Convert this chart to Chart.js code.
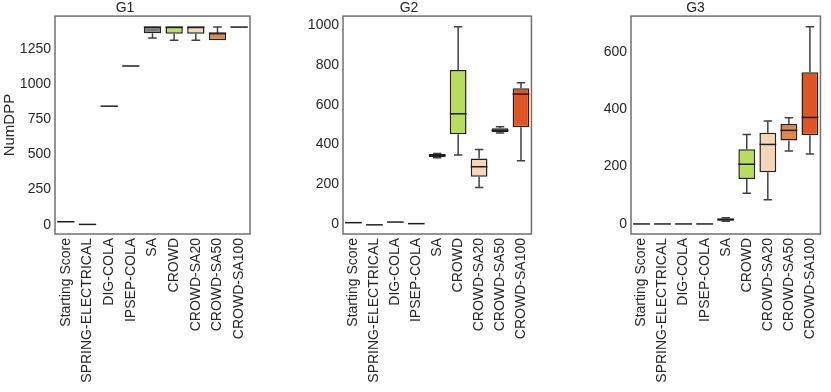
<!DOCTYPE html>
<html>
<head>
<meta charset="utf-8">
<script src="https://cdn.jsdelivr.net/npm/chart.js@4.4.1/dist/chart.umd.min.js"></script>
<style>
  body { margin: 0; background: #fff; }
  .panel { position: absolute; top: 0; height: 392px; }
</style>
</head>
<body>
<div class="panel" style="left:0;width:262px"><canvas id="g1"></canvas></div>
<div class="panel" style="left:280px;width:262px"><canvas id="g2"></canvas></div>
<div class="panel" style="left:565px;width:266px"><canvas id="g3"></canvas></div>
<script>
var categories = ["Starting Score", "SPRING-ELECTRICAL", "DIG-COLA", "IPSEP-COLA", "SA",
                  "CROWD", "CROWD-SA20", "CROWD-SA50", "CROWD-SA100"];
var boxColors = ["#9a9a9a", "#9a9a9a", "#9a9a9a", "#9a9a9a", "#7b7b7b",
                 "#b9de5c", "#f6d6b8", "#e0874b", "#e05422"];

// each entry: [low whisker, q1, median, q3, high whisker]
var g1Stats = [
  [22, 22, 22, 22, 22], [3, 3, 3, 3, 3], [842, 842, 842, 842, 842], [1127, 1127, 1127, 1127, 1127],
  [1325, 1360, 1403, 1403, 1403], [1309, 1355, 1403, 1403, 1403], [1309, 1355, 1403, 1403, 1403],
  [1309, 1309, 1360, 1360, 1403], [1403, 1403, 1403, 1403, 1403]
];
var g2Stats = [
  [7, 7, 7, 7, 7], [-4, -4, -4, -4, -4], [10, 10, 10, 10, 10], [2, 2, 2, 2, 2],
  [333, 337, 345, 352, 355], [347, 451, 554, 774, 991], [184, 238, 288, 330, 375],
  [457, 462, 471, 481, 489], [318, 486, 653, 682, 710]
];
var g3Stats = [
  [0, 0, 0, 0, 0], [0, 0, 0, 0, 0], [0, 0, 0, 0, 0], [0, 0, 0, 0, 0],
  [9, 11, 15, 20, 22], [107, 157, 208, 260, 312], [84, 180, 277, 318, 359],
  [254, 291, 326, 348, 370], [244, 309, 371, 528, 687]
];

var g1Ticks = [0, 250, 500, 750, 1000, 1250];
var g2Ticks = [0, 200, 400, 600, 800, 1000];
var g3Ticks = [0, 200, 400, 600];

var FONT = "'Liberation Sans', Arial, sans-serif";
var TEXT = "#262626";

function boxPlugin(stats) {
  return {
    id: 'boxes',
    afterDatasetsDraw: function (chart) {
      var ctx = chart.ctx, ys = chart.scales.y, meta = chart.getDatasetMeta(0);
      ctx.save();
      ctx.lineWidth = 1.5;
      meta.data.forEach(function (bar, i) {
        var s = stats[i], half = bar.width / 2, x = bar.x, cap = half / 2;
        ctx.strokeStyle = '#404040';
        ctx.beginPath();
        if (s[0] < s[1]) {
          ctx.moveTo(x, ys.getPixelForValue(s[1]));
          ctx.lineTo(x, ys.getPixelForValue(s[0]));
          ctx.moveTo(x - cap, ys.getPixelForValue(s[0]));
          ctx.lineTo(x + cap, ys.getPixelForValue(s[0]));
        }
        if (s[4] > s[3]) {
          ctx.moveTo(x, ys.getPixelForValue(s[3]));
          ctx.lineTo(x, ys.getPixelForValue(s[4]));
          ctx.moveTo(x - cap, ys.getPixelForValue(s[4]));
          ctx.lineTo(x + cap, ys.getPixelForValue(s[4]));
        }
        ctx.stroke();
        ctx.strokeStyle = '#1e1e1e';
        ctx.beginPath();
        ctx.moveTo(x - half, ys.getPixelForValue(s[2]));
        ctx.lineTo(x + half, ys.getPixelForValue(s[2]));
        ctx.stroke();
      });
      var a = chart.chartArea;
      ctx.strokeStyle = '#707070';
      ctx.lineWidth = 1.5;
      ctx.strokeRect(a.left, a.top, a.right - a.left, a.bottom - a.top);
      ctx.restore();
    }
  };
}

function makePanel(id, title, stats, ticks, yMin, yMax, yTitle, yWidth, padRight) {
  new Chart(document.getElementById(id), {
    type: 'bar',
    data: {
      labels: categories,
      datasets: [{
        data: stats.map(function (s) { return [s[1], s[3]]; }),
        backgroundColor: boxColors,
        borderColor: '#222',
        borderWidth: 1.5,
        borderSkipped: false,
        categoryPercentage: 1,
        barPercentage: 0.8
      }]
    },
    options: {
      responsive: true,
      maintainAspectRatio: false,
      animation: false,
      layout: { padding: { top: 0, right: padRight, bottom: 0, left: 0 } },
      plugins: {
        legend: { display: false },
        tooltip: { enabled: false },
        title: {
          display: true, text: title, color: TEXT,
          font: { family: FONT, size: 14, weight: 'normal', lineHeight: 1.15 },
          padding: { top: 0, bottom: 0 }
        }
      },
      scales: {
        x: {
          grid: { display: false, drawTicks: false },
          border: { display: false },
          ticks: {
            color: TEXT, font: { family: FONT, size: 14 },
            minRotation: 90, maxRotation: 90, autoSkip: false, padding: 4
          },
          afterFit: function (scale) { scale.height = 158; }
        },
        y: {
          min: yMin, max: yMax,
          grid: { display: false, drawTicks: false },
          border: { display: false },
          ticks: {
            color: TEXT, font: { family: FONT, size: 14 }, padding: 4,
            callback: function (v) { return String(v); }
          },
          afterBuildTicks: function (axis) {
            axis.ticks = ticks.map(function (v) { return { value: v }; });
          },
          title: {
            display: !!yTitle, text: yTitle || '', color: TEXT,
            font: { family: FONT, size: 15 }, padding: { top: 1, bottom: 0 }
          },
          afterFit: function (scale) { scale.width = yWidth; }
        }
      }
    },
    plugins: [boxPlugin(stats)]
  });
}

makePanel('g1', 'G1', g1Stats, g1Ticks, -65, 1481, 'NumDPP', 55, 12);
makePanel('g2', 'G2', g2Stats, g2Ticks, -50, 1045, '', 63, 4);
makePanel('g3', 'G3', g3Stats, g3Ticks, -35, 724, '', 66, 5);
</script>
</body>
</html>
